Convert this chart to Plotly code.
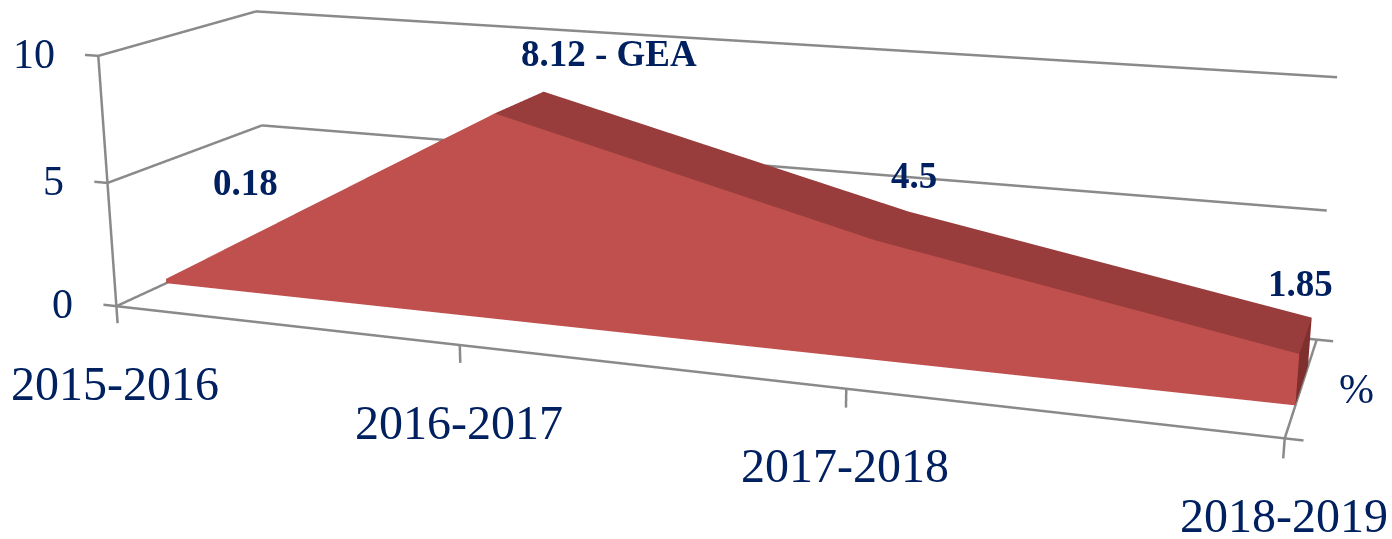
import plotly.graph_objects as go

categories = ["2015-2016", "2016-2017", "2017-2018", "2018-2019"]
values = [0.18, 8.12, 4.5, 1.85]
value_labels = ["0.18", "8.12 - GEA", "4.5", "1.85"]
z_ticks = [0, 5, 10]
label_shifts = [(20, 69), (65, 38), (5, 36), (-11, 34)]

NAVY = "#002060"
FRONT, TOP, SIDE, GRID = "#C0504D", "#993D3C", "#7F302E", "#8A8A8A"
SER = "Liberation Serif"
XR, YR, ZR = [-0.1, 3.1], [-0.05, 1.05], [-1, 10.5]
W, SCENE_H, TOP_CROP = 1392, 1853, 656   # the taller canvas gives the long lens of the original 3-D view
Y_FRONT, Y_BACK = 0.3049, 0.6993

xs = list(range(len(values)))
vx, vy, vz = [], [], []
def add(x, y, z):
    vx.append(x); vy.append(y); vz.append(z)
    return len(vx) - 1
fb = [add(x, Y_FRONT, 0) for x in xs]
ft = [add(x, Y_FRONT, v) for x, v in zip(xs, values)]
bb = [add(x, Y_BACK, 0) for x in xs]
bt = [add(x, Y_BACK, v) for x, v in zip(xs, values)]
I, J, K, C = [], [], [], []
def quad(a, b, c, d, col):
    I.extend([a, a]); J.extend([b, c]); K.extend([c, d]); C.extend([col, col])
for n in range(len(xs) - 1):
    quad(fb[n], fb[n + 1], ft[n + 1], ft[n], FRONT)
    quad(bb[n], bb[n + 1], bt[n + 1], bt[n], FRONT)
    quad(ft[n], ft[n + 1], bt[n + 1], bt[n], TOP)
quad(fb[-1], bb[-1], bt[-1], ft[-1], SIDE)
quad(fb[0], bb[0], bt[0], ft[0], SIDE)

lx, ly, lz = [], [], []
def seg(a, b):
    lx.extend([a[0], b[0], None]); ly.extend([a[1], b[1], None]); lz.extend([a[2], b[2], None])
last = xs[-1]
for z in z_ticks:
    seg((0, 0, z), (0, 1, z)); seg((0, 1, z), (last, 1, z)); seg((-0.04, 0, z), (0, 0, z))
seg((0, 0, 0), (0, 0, z_ticks[-1])); seg((0, 0, 0), (last, 0, 0)); seg((last, 0, 0), (last, 1, 0))
seg((last, 0, 0), (last + 0.04, 0, 0)); seg((last, 1, 0), (last + 0.04, 1, 0))
for x in xs:
    seg((x, 0, 0), (x, 0, -0.7))

fig = go.Figure()
fig.add_trace(go.Scatter3d(x=lx, y=ly, z=lz, mode="lines", line=dict(color=GRID, width=5),
                           hoverinfo="skip", showlegend=False))
fig.add_trace(go.Mesh3d(x=vx, y=vy, z=vz, i=I, j=J, k=K, facecolor=C, flatshading=True, hoverinfo="skip",
                        lighting=dict(ambient=1, diffuse=0, specular=0, fresnel=0, roughness=1), showscale=False))
ann = []
for x, c in zip(xs, categories):
    ann.append(dict(x=x, y=0, z=0, text=c, showarrow=False, yshift=-77, xshift=-1,
                    font=dict(family=SER, size=48, color=NAVY)))
for z in z_ticks:
    ann.append(dict(x=0, y=0, z=z, text=str(z), showarrow=False, xanchor="right", xshift=-41, yshift=2,
                    font=dict(family=SER, size=42, color=NAVY)))
for x, v, t, (dx, dy) in zip(xs, values, value_labels, label_shifts):
    ann.append(dict(x=x, y=Y_BACK, z=v, text="<b>" + t + "</b>", showarrow=False, xshift=dx, yshift=dy,
                    font=dict(family=SER, size=37, color=NAVY)))
ann.append(dict(x=last, y=0.5, z=0, text="%", showarrow=False, xshift=55, yshift=-3,
                font=dict(family=SER, size=42, color=NAVY)))
off = dict(visible=False)
fig.update_layout(width=W, height=SCENE_H, margin=dict(l=0, r=0, t=0, b=0), paper_bgcolor="white",
    scene=dict(domain=dict(x=[0, 1], y=[0, 1]), bgcolor="white",
        xaxis=dict(range=XR, **off), yaxis=dict(range=YR, **off), zaxis=dict(range=ZR, **off),
        aspectmode="manual", aspectratio=dict(x=2.0, y=0.5331, z=0.4794),
        camera=dict(eye=dict(x=1.1677, y=-3.2379, z=0.8442), center=dict(x=0.0198, y=-0.0809, z=-0.0883),
                    up=dict(x=-0.0013, y=-0.0034, z=1)),
        annotations=ann))
fig.write_html("out.html", config=dict(displayModeBar=False),
    post_script=f"document.body.style.margin='0';document.documentElement.style.overflow='hidden';"
                f"document.body.style.overflow='hidden';document.getElementById('{{plot_id}}').style.marginTop='-{TOP_CROP}px';")
